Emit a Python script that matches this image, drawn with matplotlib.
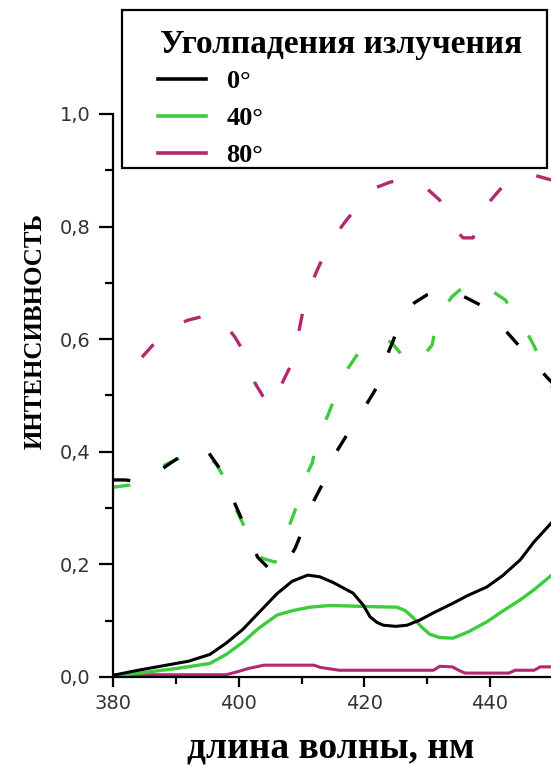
import matplotlib
matplotlib.use("Agg")
import matplotlib.pyplot as plt
from matplotlib.lines import Line2D
from matplotlib.patches import Rectangle
from matplotlib.ticker import MultipleLocator, FuncFormatter

# ---- data: wavelength (nm) and relative intensity ----
# solid curves
wl_0_solid = [380, 384, 388, 392, 395.4, 398, 400.7, 403, 406.1, 408.5, 411, 412.9, 415,
              418.2, 419.8, 420.9, 422, 423, 425, 426.8, 428.8, 431, 434.1, 436.5, 439.5,
              442, 444.8, 447, 449.7]
int_0_solid = [0.003, 0.012, 0.02, 0.028, 0.04, 0.06, 0.085, 0.112, 0.148, 0.17, 0.181, 0.178,
               0.168, 0.149, 0.128, 0.107, 0.097, 0.092, 0.09, 0.092, 0.101, 0.114, 0.131,
               0.145, 0.16, 0.18, 0.208, 0.24, 0.273]

wl_40_solid = [380, 385, 390, 395.4, 398, 400.7, 403, 406.1, 408.6, 411.3, 414.5, 418, 421,
               425.2, 426.5, 427.8, 429, 430.4, 432, 434.1, 436.5, 439.5, 442, 444.8, 447, 449.7]
int_40_solid = [0.002, 0.008, 0.015, 0.024, 0.04, 0.062, 0.085, 0.11, 0.118, 0.124, 0.127,
                0.126, 0.125, 0.124, 0.118, 0.105, 0.09, 0.076, 0.07, 0.069, 0.08, 0.098,
                0.117, 0.137, 0.155, 0.18]

wl_80_solid = [380, 398, 400, 401.5, 404, 412, 413, 416, 431, 432, 434, 435, 436, 443, 444,
               447, 448, 449.7]
int_80_solid = [0.004, 0.004, 0.01, 0.015, 0.021, 0.021, 0.017, 0.012, 0.012, 0.019, 0.018,
                0.012, 0.007, 0.007, 0.012, 0.012, 0.018, 0.018]

# dashed curves
wl_0_dash = [380, 382, 385, 388.5, 392.5, 394.5, 397, 399.7, 401.3, 403, 405.5, 407, 409,
             410.5, 412, 413.5, 415, 417, 420, 422, 423, 424.5, 426, 428, 430, 432.5, 434.7,
             436.5, 438.4, 440.5, 442.8, 445.5, 449, 451]
int_0_dash = [0.35, 0.35, 0.345, 0.375, 0.405, 0.41, 0.37, 0.30, 0.26, 0.213, 0.185, 0.19,
              0.229, 0.27, 0.314, 0.346, 0.39, 0.426, 0.478, 0.515, 0.555, 0.595, 0.64, 0.665,
              0.679, 0.688, 0.682, 0.672, 0.661, 0.64, 0.611, 0.577, 0.533, 0.51]

wl_40_dash = [380, 382.7, 385, 388.3, 392.3, 394.5, 396.5, 398.1, 399.4, 401, 402.1, 404,
              405.8, 407.7, 409, 410.2, 411.7, 412.6, 414.2, 415.8, 417.2, 419, 420.6, 422.8,
              424.4, 426.5, 427.5, 428.5, 430.8, 431.6, 433.9, 436.5, 438.9, 442.4, 445.5,
              447.1, 449, 451]
int_40_dash = [0.337, 0.341, 0.355, 0.377, 0.398, 0.40, 0.377, 0.346, 0.302, 0.265, 0.22,
               0.21, 0.204, 0.258, 0.297, 0.345, 0.38, 0.426, 0.465, 0.51, 0.545, 0.575,
               0.593, 0.604, 0.593, 0.565, 0.553, 0.558, 0.59, 0.638, 0.675, 0.70, 0.696,
               0.67, 0.62, 0.586, 0.533, 0.49]

wl_80_dash = [384.6, 387.5, 390, 392, 395.9, 397.5, 399.4, 401.3, 402.6, 404.7, 405.8, 407,
              408.5, 409.4, 410.1, 411.3, 412.5, 414.5, 416.9, 418.5, 420.4, 422, 424.1,
              426.5, 428.8, 432, 434.1, 435.7, 437.3, 439.2, 441.9, 444, 446.8, 449.7, 451]
int_80_dash = [0.568, 0.604, 0.625, 0.634, 0.645, 0.63, 0.604, 0.568, 0.522, 0.483, 0.485,
               0.524, 0.558, 0.604, 0.643, 0.691, 0.723, 0.771, 0.808, 0.83, 0.856, 0.870,
               0.879, 0.885, 0.879, 0.847, 0.799, 0.78, 0.78, 0.835, 0.870, 0.885, 0.892,
               0.883, 0.88]

angle_labels = ["0°", "40°", "80°"]
legend_title = "Уголпадения излучения"
x_label = "длина волны, нм"
y_label = "ИНТЕНСИВНОСТЬ"

BLACK = "#000000"
GREEN = "#3ccc3c"
MAGENTA = "#b3286e"
SERIF = "Liberation Serif"

W, H = 551, 765
fig = plt.figure(figsize=(W / 100, H / 100), dpi=100)
ax = fig.add_axes([113 / W, 88 / H, 438 / W, 563 / H])

# broken curves: strokes and gaps in multiples of the line width
for wl, val, col in ((wl_80_dash, int_80_dash, MAGENTA),
                     (wl_40_dash, int_40_dash, GREEN),
                     (wl_0_dash, int_0_dash, BLACK)):
    ln, = ax.plot(wl, val, color=col, lw=2.4)
    ln.set_linestyle("--")
    ln.set_dashes([5.2, 11.5])

ax.plot(wl_80_solid, int_80_solid, color=MAGENTA, lw=2.2)
ax.plot(wl_40_solid, int_40_solid, color=GREEN, lw=2.4)
ax.plot(wl_0_solid, int_0_solid, color=BLACK, lw=2.2)

ax.set_xlim(380, 449.7)
ax.set_ylim(0, 1.0)
ax.spines["top"].set_visible(False)
ax.spines["right"].set_visible(False)
for s in ("left", "bottom"):
    ax.spines[s].set_linewidth(1.6)

ax.xaxis.set_major_locator(MultipleLocator(20))
ax.xaxis.set_minor_locator(MultipleLocator(10))
ax.yaxis.set_major_locator(MultipleLocator(0.2))
ax.yaxis.set_minor_locator(MultipleLocator(0.1))
ax.yaxis.set_major_formatter(FuncFormatter(lambda v, p: f"{v:.1f}".replace(".", ",")))
ax.tick_params(which="both", direction="out", width=1.6, labelsize=14, labelcolor="#333333")
ax.tick_params(axis="x", which="major", length=7.5, pad=5)
ax.tick_params(axis="x", which="minor", length=5)
ax.tick_params(axis="y", which="major", length=10, pad=6)
ax.tick_params(axis="y", which="minor", length=6)
for lab in ax.get_xticklabels() + ax.get_yticklabels():
    lab.set_family("DejaVu Sans")

ax.set_xlabel(x_label, family=SERIF, fontweight="bold", fontsize=27, va="center")
ax.xaxis.set_label_coords(0.498, (677 - 748) / 563)
ax.set_ylabel(y_label, family=SERIF, fontweight="bold", fontsize=18, va="center")
ax.yaxis.set_label_coords((35 - 113) / 438, (677 - 331) / 563)

# legend: white frame, title line and the three angle entries
fig.patches.append(Rectangle((122 / W, 1 - 168 / H), 425 / W, 158 / H,
                             transform=fig.transFigure, facecolor="white",
                             edgecolor="black", lw=1.6, zorder=3))
fig.text(160 / W, 1 - 45 / H, legend_title, family=SERIF, fontweight="bold", fontsize=24,
         ha="left", va="center", zorder=4)
handles = [Line2D([], [], color=c, lw=2.6) for c in (BLACK, GREEN, MAGENTA)]
leg = fig.legend(handles, angle_labels,
                 loc="upper left", bbox_to_anchor=(158 / W, 1 - 70 / H),
                 frameon=False, borderpad=0, borderaxespad=0,
                 labelspacing=0.5, handlelength=1.8, handletextpad=0.8,
                 prop=dict(family=SERIF, weight="bold", size=19))
leg.set_zorder(4)

fig.savefig("out.png", dpi=100)
